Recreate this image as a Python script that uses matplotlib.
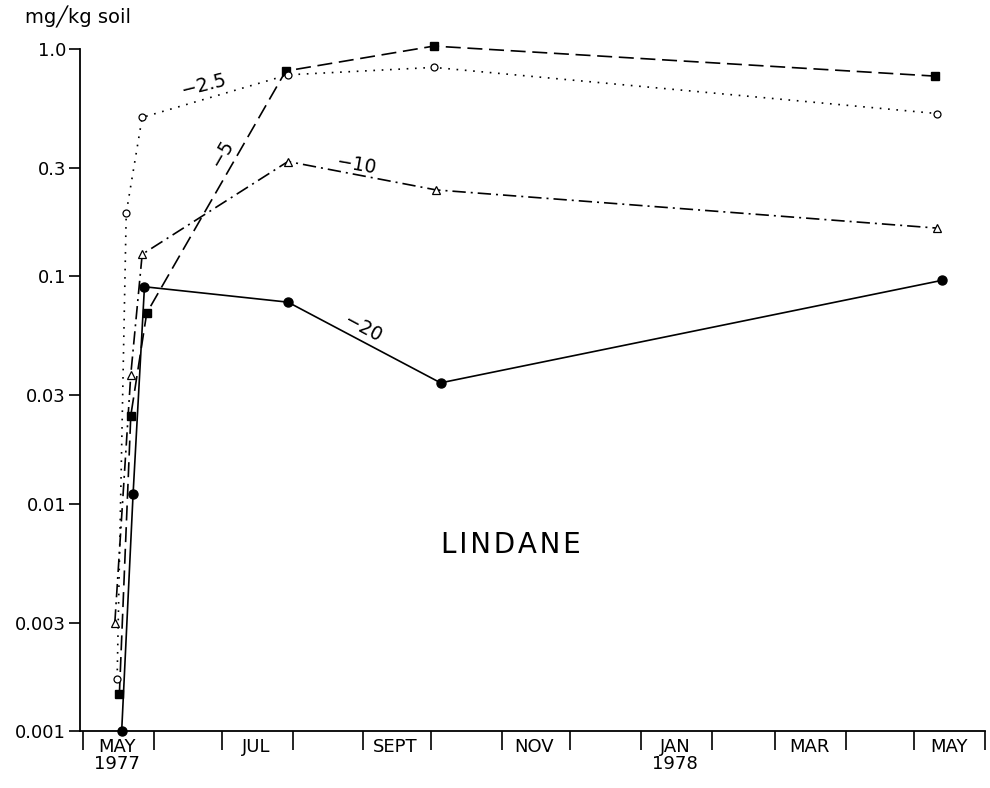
import matplotlib
matplotlib.use("Agg")
import matplotlib.pyplot as plt
import matplotlib.dates as mdates
import pandas as pd
import datetime as dt

# ---- data ----
dates_20 = ["1977-05-18", "1977-05-23", "1977-05-28", "1977-07-30", "1977-10-05", "1978-05-13"]
vals_20 = [0.001, 0.011, 0.09, 0.077, 0.034, 0.096]

dates_5 = ["1977-05-17", "1977-05-22", "1977-05-29", "1977-07-29", "1977-10-02", "1978-05-10"]
vals_5 = [0.00146, 0.0244, 0.069, 0.80, 1.03, 0.76]

dates_25 = ["1977-05-16", "1977-05-20", "1977-05-27", "1977-07-30", "1977-10-02", "1978-05-11"]
vals_25 = [0.0017, 0.19, 0.50, 0.77, 0.83, 0.52]

dates_10 = ["1977-05-15", "1977-05-22", "1977-05-27", "1977-07-30", "1977-10-03", "1978-05-11"]
vals_10 = [0.003, 0.037, 0.125, 0.32, 0.24, 0.163]

ytick_vals = [0.001, 0.003, 0.01, 0.03, 0.1, 0.3, 1.0]
ytick_labels = ["0.001", "0.003", "0.01", "0.03", "0.1", "0.3", "1.0"]

month_labels = ["MAY\n1977", "JUL", "SEPT", "NOV", "JAN\n1978", "MAR", "MAY"]
month_label_dates = ["1977-05-16", "1977-07-16", "1977-09-15", "1977-11-15", "1978-01-16", "1978-03-16", "1978-05-16"]

depth_labels = ["\u22122.5", "\u22125", "\u221210", "\u221220"]
depth_label_dates = ["1977-06-23", "1977-07-01", "1977-08-29", "1977-09-01"]
depth_label_vals = [0.69, 0.348, 0.308, 0.059]
depth_label_rot = [14, 60, -10, -28]

# ---- figure ----
fig = plt.figure(figsize=(9.9, 7.88), dpi=100)
ax = fig.add_axes([0.0808, 0.0723, 0.9142, 0.8655])
ax.set_yscale("log")

lw = 1.2
common = dict(color="black", lw=lw, clip_on=False, zorder=3)
ax.plot(pd.to_datetime(dates_20), vals_20, linestyle="-", marker="o", ms=6.5,
        mfc="black", mec="black", **common)
ax.plot(pd.to_datetime(dates_5), vals_5, linestyle=(0, (9, 4)), marker="s", ms=5.5,
        mfc="black", mec="black", **common)
ax.plot(pd.to_datetime(dates_25), vals_25, linestyle=(0, (1, 4)), marker="o", ms=5,
        mfc="white", mec="black", mew=0.9, **common)
ax.plot(pd.to_datetime(dates_10), vals_10, linestyle=(0, (8, 3, 1.2, 3)), marker="^", ms=6,
        mfc="white", mec="black", mew=0.9, **common)

x0 = dt.datetime(1977, 5, 1) - dt.timedelta(days=1.3)
x1 = dt.datetime(1978, 6, 1)
ax.set_xlim(x0, x1)
ax.set_ylim(0.001, 1.0)

for s in ["top", "right"]:
    ax.spines[s].set_visible(False)
for s in ["left", "bottom"]:
    ax.spines[s].set_linewidth(1.3)

ax.set_yticks(ytick_vals)
ax.set_yticklabels(ytick_labels)
ax.yaxis.set_minor_locator(matplotlib.ticker.NullLocator())
ax.tick_params(axis="y", direction="out", length=8, width=1.2, labelsize=13, pad=2)

month_ticks = pd.date_range("1977-05-01", "1978-06-01", freq="MS")
ax.set_xticks(month_ticks)
ax.set_xticklabels([""] * len(month_ticks))
ax.tick_params(axis="x", direction="out", length=14, width=1.2)

for lab, d in zip(month_labels, pd.to_datetime(month_label_dates)):
    ax.annotate(lab, xy=(mdates.date2num(d), 0), xycoords=("data", "axes fraction"),
                xytext=(0, -5), textcoords="offset points", ha="center", va="top",
                fontsize=13, linespacing=0.95)

# curve labels
for lab, d, v, r in zip(depth_labels, depth_label_dates, depth_label_vals, depth_label_rot):
    ax.text(mdates.date2num(pd.Timestamp(d)), v, lab, rotation=r, fontsize=13.5,
            ha="center", va="center", rotation_mode="anchor")

ax.text(mdates.date2num(pd.Timestamp("1977-11-05")), 0.0066,
        "\u200a".join("LINDANE"), fontsize=20, ha="center", va="center")

fig.text(25 / 990, 1 - 17 / 788, "mg\u2571kg soil", fontsize=14, ha="left", va="center")

fig.savefig("out.png", dpi=100)
